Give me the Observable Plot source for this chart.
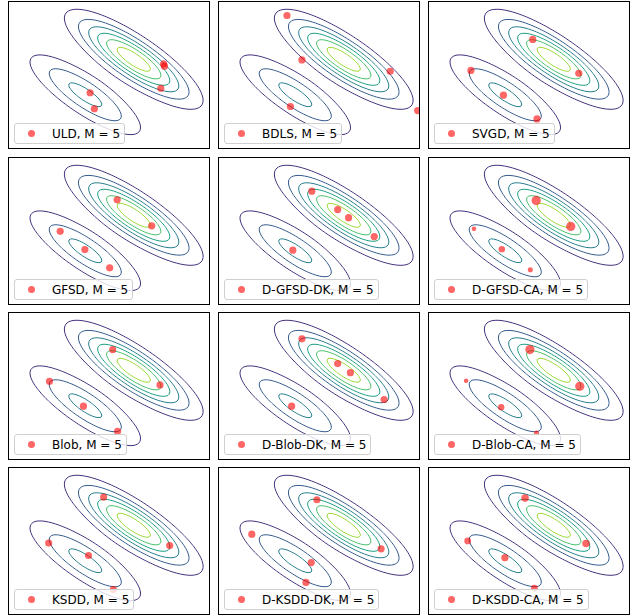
<!DOCTYPE html>
<html><head><meta charset="utf-8">
<script src="https://cdn.jsdelivr.net/npm/d3@7"></script>
<script src="https://cdn.jsdelivr.net/npm/@observablehq/plot@0.6"></script>
<style>
body{margin:0;background:#fff;font-family:"DejaVu Sans",sans-serif;}
#wrap{position:relative;width:641px;height:616px;overflow:hidden;background:#fff;}
.panel{position:absolute;width:202px;height:148px;}
.panel svg{display:block;position:absolute;left:0;top:0;}
.frame{position:absolute;left:0;top:0;width:202px;height:148px;box-sizing:border-box;border:1px solid #000;pointer-events:none;}
.legend{position:absolute;left:6px;bottom:5px;height:21px;box-sizing:border-box;border:1px solid #d0d0d0;border-radius:3px;background:rgba(255,255,255,0.8);display:flex;align-items:center;padding-right:4px;font-size:12px;color:#000;white-space:nowrap;}
.legend .sw{width:7px;height:7px;border-radius:50%;background:rgba(255,0,0,0.6);margin-left:13px;margin-right:17px;flex:none;}
</style></head>
<body>
<div id="wrap"></div>
<script>
// ---- data ----
const methods = ["ULD","BDLS","SVGD","GFSD","D-GFSD-DK","D-GFSD-CA","Blob","D-Blob-DK","D-Blob-CA","KSDD","D-KSDD-DK","D-KSDD-CA"];
const M = 5;
const mixWeights = [0.667, 0.333];
const meanX = [1.2, -1.2];
const meanY = [0.8, -0.95];
const covXX = 3.1, covXY = -1.83, covYY = 1.6;
const levels = [0.0125, 0.025, 0.0375, 0.05, 0.0625, 0.075, 0.0875];
const pointsX = [
 [2.68, 2.72, 2.54, -0.96, -0.75],
 [-1.61, -0.87, 3.50, -1.44, 4.86],
 [0.16, 2.44, -2.90, -1.29, 0.37],
 [0.38, 2.09, -2.44, -1.22, 0.01],
 [-0.38, 0.90, 1.44, 2.71, -1.32],
 [0.33, 2.04, -2.75, -1.37, 0.04],
 [0.16, 2.50, -2.97, -1.29, 0.40],
 [-0.87, 0.90, 1.53, 3.20, -1.38],
 [0.02, 2.49, -3.14, -1.40, 0.35],
 [-0.29, 2.98, -3.01, -1.04, 0.19],
 [-0.13, 3.05, -3.35, -0.41, -0.67],
 [-0.22, 2.80, -3.06, -1.22, 0.24]
];
const pointsY = [
 [0.58, 0.46, -0.63, -0.85, -1.64],
 [2.96, 0.77, 0.21, -1.53, -1.73],
 [1.78, 0.11, 0.25, -0.97, -2.14],
 [1.56, 0.28, 0.01, -0.89, -1.79],
 [1.99, 1.08, 0.68, -0.25, -0.92],
 [1.53, 0.25, 0.13, -0.87, -1.89],
 [1.82, 0.08, 0.26, -0.97, -2.21],
 [2.35, 1.13, 0.68, -0.64, -0.97],
 [1.82, 0.01, 0.28, -1.02, -2.29],
 [2.19, -0.20, -0.08, -0.69, -2.37],
 [2.06, -0.36, 0.36, -1.04, -2.02],
 [2.14, -0.10, 0.03, -0.80, -2.30]
];
const pointsW = [
 [0.2,0.2,0.2,0.2,0.2],
 [0.2,0.2,0.2,0.2,0.2],
 [0.2,0.2,0.2,0.2,0.2],
 [0.2,0.2,0.2,0.2,0.2],
 [0.2,0.2,0.2,0.2,0.2],
 [0.33,0.33,0.08,0.16,0.10],
 [0.2,0.2,0.2,0.2,0.2],
 [0.2,0.2,0.2,0.2,0.2],
 [0.33,0.33,0.08,0.16,0.10],
 [0.2,0.2,0.2,0.2,0.2],
 [0.2,0.2,0.2,0.2,0.2],
 [0.22,0.22,0.18,0.20,0.18]
];

// ---- layout ----
const colLeft = [8, 218, 428];
const rowTop = [1, 157, 312, 467];
const W = 202, H = 148;
const xDom = [-5, 5], yDom = [-3.65, 3.65];

const det = covXX * covYY - covXY * covXY;
const iXX = covYY / det, iYY = covXX / det, iXY = -covXY / det;
const norm = 1 / (2 * Math.PI * Math.sqrt(det));
function density(x, y) {
  let s = 0;
  for (let k = 0; k < mixWeights.length; k++) {
    const dx = x - meanX[k], dy = y - meanY[k];
    const q = iXX * dx * dx + 2 * iXY * dx * dy + iYY * dy * dy;
    s += mixWeights[k] * norm * Math.exp(-q / 2);
  }
  return s;
}

const wrap = document.getElementById("wrap");
methods.forEach((name, i) => {
  const pts = pointsX[i].map((x, j) => ({x, y: pointsY[i][j], w: pointsW[i][j]}));
  const chart = Plot.plot({
    width: W, height: H, margin: 0,
    x: {domain: xDom, axis: null},
    y: {domain: yDom, axis: null},
    color: {type: "linear", scheme: "viridis", domain: [0, levels[levels.length - 1]]},
    r: {type: "sqrt", domain: [0, 0.2], range: [0, 3.6]},
    marks: [
      Plot.contour({x1: xDom[0], x2: xDom[1], y1: yDom[0], y2: yDom[1], stroke: density, thresholds: levels, strokeWidth: 1, pixelSize: 1}),
      Plot.dot(pts, {x: "x", y: "y", r: "w", fill: "red", fillOpacity: 0.6, clip: true})
    ]
  });
  const panel = document.createElement("div");
  panel.className = "panel";
  panel.style.left = colLeft[i % 3] + "px";
  panel.style.top = rowTop[Math.floor(i / 3)] + "px";
  panel.appendChild(chart);
  const leg = document.createElement("div");
  leg.className = "legend";
  const sw = document.createElement("span"); sw.className = "sw";
  const tx = document.createElement("span"); tx.textContent = `${name}, M = ${M}`;
  leg.appendChild(sw); leg.appendChild(tx);
  panel.appendChild(leg);
  const fr = document.createElement("div"); fr.className = "frame";
  panel.appendChild(fr);
  wrap.appendChild(panel);
});
</script>
</body></html>
